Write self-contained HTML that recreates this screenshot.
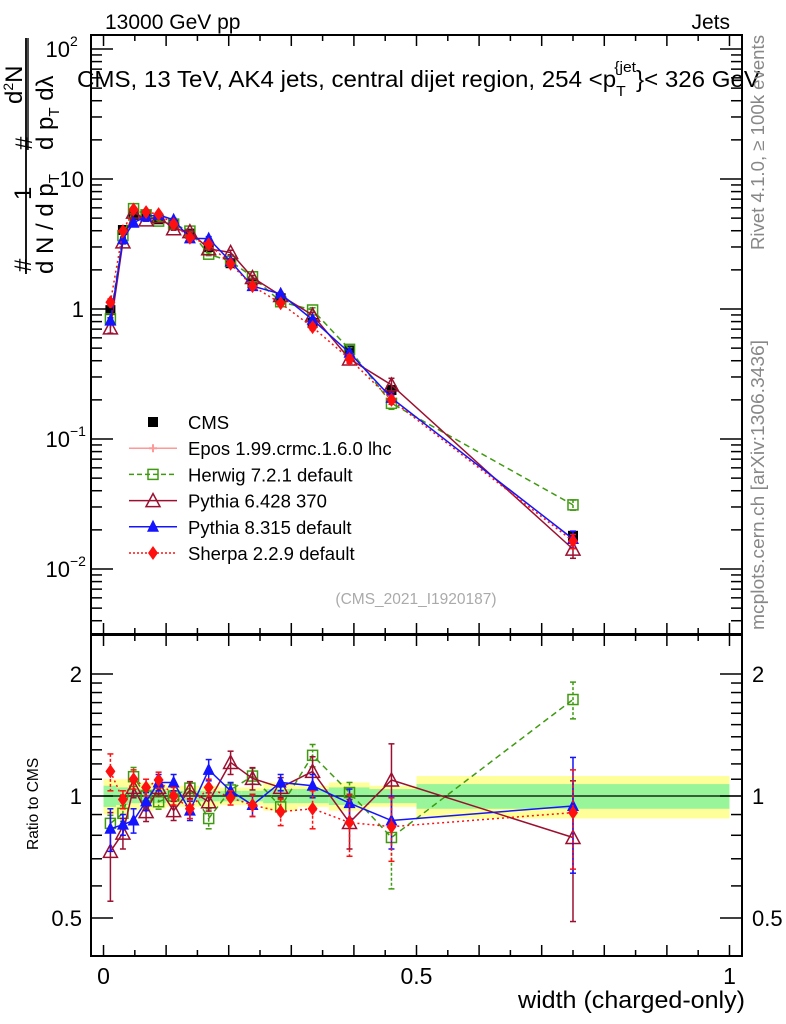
<!DOCTYPE html>
<html><head><meta charset="utf-8">
<style>
html,body{margin:0;padding:0;background:#fff;}
svg{display:block;font-family:"Liberation Sans",sans-serif;}
</style></head>
<body>
<svg id="chart" width="786" height="1024" viewBox="0 0 786 1024" xmlns="http://www.w3.org/2000/svg">
<text x="105" y="29" font-size="21">13000 GeV pp</text>
<text x="730" y="29" font-size="21" text-anchor="end">Jets</text>
<text x="77" y="87" font-size="23" textLength="683" lengthAdjust="spacingAndGlyphs">CMS, 13 TeV, AK4 jets, central dijet region, 254 &lt;p<tspan font-size="15" dy="9">T</tspan><tspan font-size="15" dx="-11" dy="-24">{jet</tspan><tspan dy="15">}&lt; 326 GeV</tspan></text>
<text transform="translate(764,250) rotate(-90)" font-size="18" fill="#888" textLength="215" lengthAdjust="spacingAndGlyphs">Rivet 4.1.0, ≥ 100k events</text>
<text transform="translate(764,630) rotate(-90)" font-size="18" fill="#888" textLength="290" lengthAdjust="spacingAndGlyphs">mcplots.cern.ch [arXiv:1306.3436]</text>
<text x="416" y="604" font-size="15.5" fill="#aaa" text-anchor="middle">(CMS_2021_I1920187)</text>
<g font-size="24">
  <text transform="translate(31,272) rotate(-90)">#</text>
  <text transform="translate(31,200) rotate(-90)">1</text>
  <line x1="26" y1="274" x2="26" y2="38" stroke="#000" stroke-width="1.8"/>
  <text transform="translate(53,274) rotate(-90)">d N / d p<tspan font-size="15" dy="6">T</tspan></text>
  <text transform="translate(32,150) rotate(-90)">#</text>
  <text transform="translate(22,104) rotate(-90)">d<tspan font-size="14" dy="-9">2</tspan><tspan dy="9">N</tspan></text>
  <line x1="28" y1="150" x2="28" y2="38" stroke="#000" stroke-width="1.4"/>
  <text transform="translate(53,150) rotate(-90)">d p<tspan font-size="15" dy="6">T</tspan><tspan dy="-6"> dλ</tspan></text>
</g>
<text transform="translate(38,850) rotate(-90)" font-size="15.5">Ratio to CMS</text>
<text x="745" y="1008" font-size="24" text-anchor="end" textLength="227" lengthAdjust="spacingAndGlyphs">width (charged-only)</text>
<g id="bands"></g>
<g id="marks"></g>
<g id="axes"></g>
<g id="legend"></g>
</svg>
<script>
// ---- data ----
const xCenters = [0.011,0.031,0.048,0.068,0.088,0.112,0.138,0.168,0.203,0.238,0.283,0.334,0.393,0.46,0.75];
const binEdges = [0,0.02,0.04,0.055,0.08,0.1,0.125,0.15,0.185,0.22,0.255,0.31,0.36,0.425,0.5,1.0];
const cmsValues = [0.98,4.05,5.3,5.3,4.9,4.5,3.8,3.0,2.25,1.58,1.21,0.78,0.48,0.238,0.018];
const cmsBandYellow = [0.10,0.10,0.08,0.08,0.07,0.06,0.06,0.06,0.05,0.05,0.08,0.06,0.08,0.06,0.12];
const cmsBandGreen = [0.06,0.05,0.04,0.04,0.04,0.03,0.03,0.03,0.03,0.03,0.04,0.04,0.05,0.04,0.07];
const herwigRatio = [0.856,0.906,1.116,1.0,0.968,1.0,1.046,0.88,1.035,1.12,0.94,1.26,1.02,0.79,1.73];
const herwigErr = [0.04,0.04,0.06,0.04,0.04,0.03,0.03,0.05,0.04,0.05,0.04,0.08,0.06,0.2,0.18];
const pythia6Ratio = [0.73,0.81,1.05,0.915,1.05,0.92,1.035,0.968,1.21,1.105,1.05,1.15,0.86,1.095,0.79];
const pythia6Err = [0.18,0.07,0.06,0.05,0.05,0.05,0.05,0.05,0.08,0.07,0.06,0.1,0.12,0.25,0.3];
const pythia8Ratio = [0.83,0.85,0.87,0.97,1.08,1.08,0.92,1.16,1.03,0.95,1.08,1.06,0.96,0.87,0.945];
const pythia8Err = [0.1,0.05,0.06,0.05,0.05,0.05,0.05,0.07,0.05,0.06,0.05,0.07,0.08,0.13,0.3];
const sherpaRatio = [1.15,0.98,1.10,1.05,1.095,1.0,0.93,1.05,0.99,0.95,0.915,0.93,0.86,0.84,0.91];
const sherpaErr = [0.12,0.05,0.06,0.05,0.05,0.05,0.05,0.05,0.04,0.06,0.07,0.1,0.15,0.15,0.25];
const mainYTicks = [0.01,0.1,1,10,100];
const mainYTickLabels = ["10","10","1","10","10"];
const mainYTickExp = ["−2","−1","","","2"];
const ratioYTicks = [0.5,1,2];
const ratioYTickLabels = ["0.5","1","2"];
const xTickLabels = ["0","0.5","1"];
const xTickValues = [0,0.5,1];

// ---- geometry ----
const L=91,R=742,MT=35,MB=634,RT=635,RB=956;
const X = v => L + (v+0.02)/1.04*(R-L);
const Ymain = v => 569 - 130*(Math.log10(v)+2);
const Yr = r => 796 - 122*Math.log2(r);
const NS="http://www.w3.org/2000/svg";
function mk(tag, attrs, parent){const e=document.createElementNS(NS,tag);for(const k in attrs)e.setAttribute(k,attrs[k]);parent.appendChild(e);return e;}
const bands=document.getElementById('bands'), marks=document.getElementById('marks'), axes=document.getElementById('axes'), legend=document.getElementById('legend');

const defs=mk('defs',{},document.getElementById('chart'));
const c1=mk('clipPath',{id:'cm'},defs); mk('rect',{x:L,y:MT,width:R-L,height:MB-MT},c1);
const c2=mk('clipPath',{id:'cr'},defs); mk('rect',{x:L,y:RT,width:R-L,height:RB-RT},c2);

for(let i=0;i<cmsBandYellow.length;i++){
  const x1=X(binEdges[i]), x2=X(binEdges[i+1]);
  const y=mk('rect',{x:x1,y:Yr(1+cmsBandYellow[i]),width:x2-x1,height:Yr(1-cmsBandYellow[i])-Yr(1+cmsBandYellow[i]),fill:'#ffff99'},bands);
  
  
  const g=mk('rect',{x:x1,y:Yr(1+cmsBandGreen[i]),width:x2-x1,height:Yr(1-cmsBandGreen[i])-Yr(1+cmsBandGreen[i]),fill:'#99f599'},bands);
  
  
}
mk('line',{x1:L,x2:R,y1:Yr(1),y2:Yr(1),stroke:'#000','stroke-width':1.2},bands);

function marker(type,color,cx,cy,parent){
  let e;
  if(type==='sq') e=mk('rect',{x:cx-5,y:cy-5,width:10,height:10,fill:'none',stroke:color,'stroke-width':1.5},parent);
  else if(type==='fsq') e=mk('rect',{x:cx-5,y:cy-5,width:10,height:10,fill:color},parent);
  else if(type==='otri') e=mk('polygon',{points:`${cx},${cy-7} ${cx-7},${cy+6} ${cx+7},${cy+6}`,fill:'none',stroke:color,'stroke-width':1.5},parent);
  else if(type==='ftri') e=mk('polygon',{points:`${cx},${cy-7} ${cx-6},${cy+5} ${cx+6},${cy+5}`,fill:color},parent);
  else if(type==='dia') e=mk('polygon',{points:`${cx},${cy-7} ${cx-5},${cy} ${cx},${cy+7} ${cx+5},${cy}`,fill:color},parent);
  else if(type==='cross') e=mk('path',{d:`M${cx-4},${cy}h8M${cx},${cy-4}v8`,stroke:color,'stroke-width':2},parent);
  return e;
}

const models=[
 {name:'herwig',ratio:herwigRatio,err:herwigErr,color:'#3f9a10',dash:'6,4',m:'sq'},
 {name:'pythia6',ratio:pythia6Ratio,err:pythia6Err,color:'#9b1030',dash:'',m:'otri'},
 {name:'pythia8',ratio:pythia8Ratio,err:pythia8Err,color:'#1414ff',dash:'',m:'ftri'},
 {name:'sherpa',ratio:sherpaRatio,err:sherpaErr,color:'#ff1010',dash:'2,3',m:'dia'}
];

const gm=mk('g',{'clip-path':'url(#cm)'},marks);


const gr=mk('g',{'clip-path':'url(#cr)'},marks);


cmsValues.forEach((v,i)=>{
  const p=marker('fsq','#000',X(xCenters[i]),Ymain(v),gm);
  
  
});
models.forEach(md=>{
  const vals=md.ratio.map((r,i)=>r*cmsValues[i]);
  const ptsM=vals.map((v,i)=>`${X(xCenters[i])},${Ymain(v)}`).join(' ');
  const ptsR=md.ratio.map((r,i)=>`${X(xCenters[i])},${Yr(r)}`).join(' ');
  const lm=mk('polyline',{points:ptsM,fill:'none',stroke:md.color,'stroke-width':1.5,'stroke-dasharray':md.dash},gm);
  
  
  const lr=mk('polyline',{points:ptsR,fill:'none',stroke:md.color,'stroke-width':1.5,'stroke-dasharray':md.dash},gr);
  
  
  md.ratio.forEach((r,i)=>{
    const x=X(xCenters[i]);
    const e=md.err[i];
    [[gm,Ymain(vals[i]*(1+e*0.5)),Ymain(vals[i]*(1-e*0.5)),Ymain(vals[i])],[gr,Yr(r+e),Yr(Math.max(r-e,0.01)),Yr(r)]].forEach(([g,y1,y2,yc])=>{
      mk('line',{x1:x,x2:x,y1:y1,y2:y2,stroke:md.color,'stroke-width':1.5,'stroke-dasharray':md.dash?'3,2':''},g);
      mk('line',{x1:x-3,x2:x+3,y1:y1,y2:y1,stroke:md.color,'stroke-width':1.5},g);
      mk('line',{x1:x-3,x2:x+3,y1:y2,y2:y2,stroke:md.color,'stroke-width':1.5},g);
      const p=marker(md.m,md.color,x,yc,g);
      
      
    });
  });
});

[[MT,MB],[RT,RB]].forEach(([t,b])=>{
  mk('rect',{x:L,y:t,width:R-L,height:b-t,fill:'none',stroke:'#000','stroke-width':2},axes);
  for(let k=0;k<=20;k++){
    const v=k*0.05, x=X(v), len=(k%2===0)?11:6;
    mk('line',{x1:x,x2:x,y1:b,y2:b-len,stroke:'#000','stroke-width':1.5},axes);
    mk('line',{x1:x,x2:x,y1:t,y2:t+len,stroke:'#000','stroke-width':1.5},axes);
  }
});
xTickValues.forEach((v,i)=>{
  const t=mk('text',{x:X(v),y:984,'font-size':23,'text-anchor':'middle'},axes);
  t.textContent=xTickLabels[i];
  
  
});
for(let d=-3;d<=2;d++){
  for(let m=1;m<10;m++){
    const v=m*Math.pow(10,d), y=Ymain(v);
    if(y<MT||y>MB) continue;
    const len=m===1?22:11;
    mk('line',{x1:L,x2:L+len,y1:y,y2:y,stroke:'#000','stroke-width':1.5},axes);
    mk('line',{x1:R,x2:R-len,y1:y,y2:y,stroke:'#000','stroke-width':1.5},axes);
  }
}
mainYTicks.forEach((v,i)=>{
  const y=Ymain(v);
  const t=mk('text',{x:mainYTickExp[i]?70:84,y:y+8,'font-size':22,'text-anchor':'end'},axes);
  t.textContent=mainYTickLabels[i];
  
  
  if(mainYTickExp[i]){
    const s=mk('text',{x:70,y:y-3,'font-size':14},axes);
    s.textContent=mainYTickExp[i];
  }
});
[0.4,0.5,0.6,0.7,0.8,0.9,1,1.1,1.2,1.3,1.4,1.5,1.6,1.7,1.8,1.9,2,2.5].forEach(v=>{
  const y=Yr(v); if(y<RT||y>RB) return;
  const len=(v===0.5||v===1||v===2)?22:11;
  mk('line',{x1:L,x2:L+len,y1:y,y2:y,stroke:'#000','stroke-width':1.5},axes);
  mk('line',{x1:R,x2:R-len,y1:y,y2:y,stroke:'#000','stroke-width':1.5},axes);
});
ratioYTicks.forEach((v,i)=>{
  const y=Yr(v);
  const t=mk('text',{x:82,y:y+8,'font-size':22,'text-anchor':'end'},axes);
  t.textContent=ratioYTickLabels[i];
  
  
  const t2=mk('text',{x:752,y:y+8,'font-size':22},axes);
  t2.textContent=ratioYTickLabels[i];
  
  
});

const legendNames=['CMS','Epos 1.99.crmc.1.6.0 lhc','Herwig 7.2.1 default','Pythia 6.428 370','Pythia 8.315 default','Sherpa 2.2.9 default'];
const legendStyles=[['fsq','#000',''],['cross','#ff9999',''],['sq','#3f9a10','5,3'],['otri','#9b1030',''],['ftri','#1414ff',''],['dia','#ff1010','2,2']];
legendNames.forEach((n,i)=>{
  const y=422+i*26.2;
  const g=mk('g',{},legend);
  
  
  const [m,c,d]=legendStyles[i];
  if(i>0) mk('line',{x1:129,x2:177,y1:y,y2:y,stroke:c,'stroke-width':1.5,'stroke-dasharray':d},g);
  marker(m,c,153,y,g);
  const t=mk('text',{x:188,y:y+7,'font-size':18.5},g);
  t.textContent=n;
});
</script>
</body></html>
